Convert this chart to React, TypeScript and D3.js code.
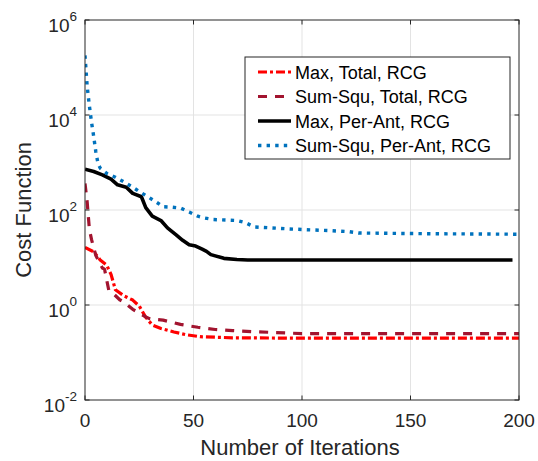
import React from "react";
import * as d3 from "d3";

const W = 538;
const H = 461;

const xTicks = [0, 50, 100, 150, 200];
const yTickExps = [-2, 0, 2, 4, 6];
const seriesNames = ["Max, Total, RCG", "Sum-Squ, Total, RCG", "Max, Per-Ant, RCG", "Sum-Squ, Per-Ant, RCG"];

const maxTotalIter = [0, 4, 7, 10, 12, 14, 18, 22, 25, 28, 31, 35, 41, 47, 53, 68, 100, 150, 200];
const maxTotalVal = [16.2, 13.2, 8.9, 6.9, 4.4, 2.1, 1.55, 1.27, 0.95, 0.55, 0.38, 0.32, 0.27, 0.235, 0.215, 0.204, 0.2, 0.2, 0.2];

const sumTotalIter = [0, 1, 2, 3, 5, 8, 9, 11, 13, 16, 18, 22, 24, 28, 30, 36, 44, 52, 60, 68, 77, 85, 100, 150, 200];
const sumTotalVal = [363, 148, 40, 24, 11, 6.0, 5.7, 2.0, 1.74, 1.29, 1.15, 0.81, 0.72, 0.56, 0.51, 0.48, 0.39, 0.34, 0.305, 0.29, 0.275, 0.266, 0.25, 0.25, 0.25];

const maxPerAntIter = [0, 4, 8, 12, 15, 19, 22, 26, 28, 31, 35, 38, 42, 45, 48, 51, 54, 56, 58, 64, 70, 75, 120, 197];
const maxPerAntVal = [724, 646, 550, 447, 339, 302, 224, 190, 112, 74, 60, 42, 30, 23, 18.5, 17.4, 15, 13.5, 11.5, 9.6, 9.1, 8.85, 8.85, 8.85];

const sumPerAntIter = [0, 1, 2, 3, 4, 5, 6, 7, 10, 14, 18, 22, 25, 29, 33, 36, 40, 44, 48, 52, 55, 59, 63, 70, 74, 78, 86, 94, 102, 114, 122, 126, 140, 160, 180, 200];
const sumPerAntVal = [180000, 40000, 15850, 7080, 3550, 1660, 955, 760, 589, 490, 389, 302, 245, 190, 145, 117, 115, 110, 91, 74, 68, 63, 62, 60, 54, 44, 42, 40, 38.5, 36.6, 34.9, 32.8, 32.3, 31.6, 31.3, 30.9];

const margin = { left: 85, top: 20, right: 19, bottom: 61 };
const x0 = margin.left;
const x1 = W - margin.right;
const y0 = margin.top;
const y1 = H - margin.bottom;

const xScale = d3.scaleLinear().domain([0, 200]).range([x0, x1]);
const yScale = d3.scaleLog().domain([1e-2, 1e6]).range([y1, y0]);

const styles = [
  { color: "#FF0000", dash: "9,3,3,3", width: 3.2 },
  { color: "#A2142F", dash: "9,8", width: 3.2 },
  { color: "#000000", dash: "", width: 3.6 },
  { color: "#0072BD", dash: "3.4,5.2", width: 3.4 },
];

const series = [
  { iter: maxTotalIter, val: maxTotalVal },
  { iter: sumTotalIter, val: sumTotalVal },
  { iter: maxPerAntIter, val: maxPerAntVal },
  { iter: sumPerAntIter, val: sumPerAntVal },
];

const lineGen = d3
  .line<[number, number]>()
  .x((d) => xScale(d[0]))
  .y((d) => yScale(d[1]));

const FONT = "'Liberation Sans', Arial, Helvetica, sans-serif";
const AX = "#262626";

export default function App() {
  const legendX = 245;
  const legendY = 57;
  const legendW = 265;
  const legendH = 102;
  const rowY = [72, 96.5, 121, 145.5];

  return (
    <svg
      width={W}
      height={H}
      style={{ position: "absolute", left: 0, top: 0, background: "#fff" }}
      fontFamily={FONT}
    >
      <defs>
        <clipPath id="plotclip">
          <rect x={x0} y={y0} width={x1 - x0} height={y1 - y0} />
        </clipPath>
      </defs>
      <rect x={x0} y={y0} width={x1 - x0} height={y1 - y0} fill="#fff" />
      {xTicks.slice(1, -1).map((t) => (
        <line key={"gx" + t} x1={xScale(t)} x2={xScale(t)} y1={y0} y2={y1} stroke="#e3e3e3" strokeWidth={1} />
      ))}
      {yTickExps.slice(1, -1).map((e) => (
        <line key={"gy" + e} x1={x0} x2={x1} y1={yScale(Math.pow(10, e))} y2={yScale(Math.pow(10, e))} stroke="#e3e3e3" strokeWidth={1} />
      ))}
      <g clipPath="url(#plotclip)">
        {series.map((s, i) => (
          <path
            key={"s" + i}
            d={lineGen(s.iter.map((it, k) => [it, s.val[k]] as [number, number])) || ""}
            fill="none"
            stroke={styles[i].color}
            strokeWidth={styles[i].width}
            strokeDasharray={styles[i].dash || undefined}
            strokeLinejoin="round"
          />
        ))}
      </g>
      <rect x={x0} y={y0} width={x1 - x0} height={y1 - y0} fill="none" stroke={AX} strokeWidth={1} />
      {xTicks.map((t) => (
        <g key={"xt" + t}>
          <line x1={xScale(t)} x2={xScale(t)} y1={y1} y2={y1 - 4.5} stroke={AX} />
          <line x1={xScale(t)} x2={xScale(t)} y1={y0} y2={y0 + 4.5} stroke={AX} />
          <text x={xScale(t)} y={y1 + 27} textAnchor="middle" fontSize={19} fill={AX}>
            {t}
          </text>
        </g>
      ))}
      {yTickExps.map((e) => {
        const yy = yScale(Math.pow(10, e));
        return (
          <g key={"yt" + e}>
            <line x1={x0} x2={x0 + 4.5} y1={yy} y2={yy} stroke={AX} />
            <line x1={x1} x2={x1 - 4.5} y1={yy} y2={yy} stroke={AX} />
            <text x={x0 - 8} y={yy + 12} textAnchor="end" fontSize={19} fill={AX}>
              10
              <tspan fontSize={13.5} dy={-11}>
                {e}
              </tspan>
            </text>
          </g>
        );
      })}
      <text x={300} y={455} textAnchor="middle" fontSize={22} fill={AX}>
        Number of Iterations
      </text>
      <text
        transform={`translate(31,${(y0 + y1) / 2}) rotate(-90)`}
        textAnchor="middle"
        fontSize={22}
        fill={AX}
      >
        Cost Function
      </text>
      <rect x={legendX} y={legendY} width={legendW} height={legendH} fill="#fff" stroke={AX} strokeWidth={1} />
      {seriesNames.map((name, i) => (
        <g key={"lg" + i}>
          <line
            x1={258}
            x2={291}
            y1={rowY[i]}
            y2={rowY[i]}
            stroke={styles[i].color}
            strokeWidth={styles[i].width}
            strokeDasharray={styles[i].dash || undefined}
          />
          <text x={295} y={rowY[i] + 6.5} fontSize={18} fill="#000">
            {name}
          </text>
        </g>
      ))}
    </svg>
  );
}
